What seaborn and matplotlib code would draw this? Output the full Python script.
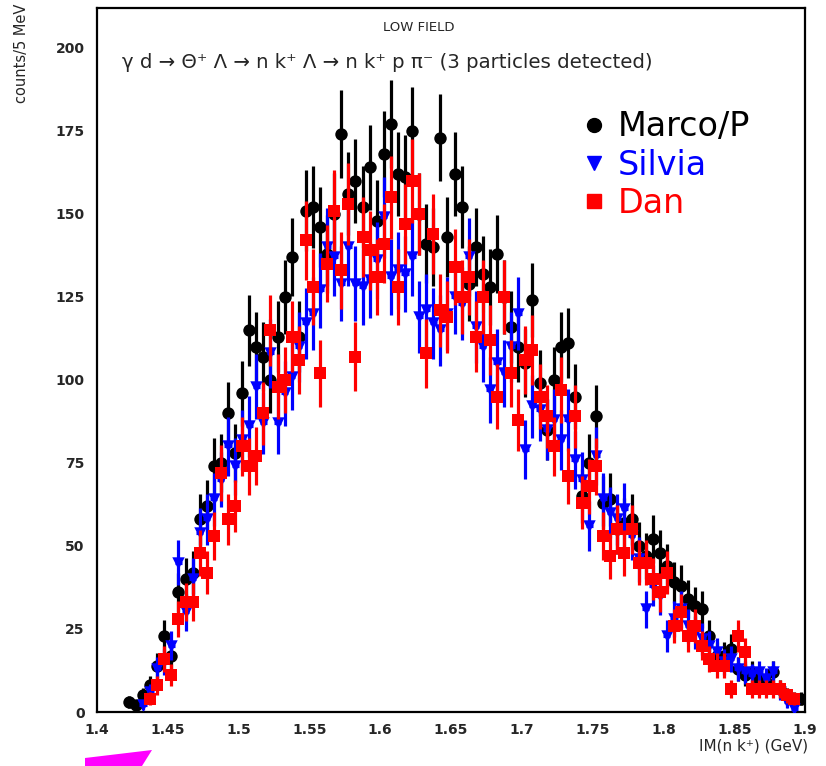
import numpy as np
import pandas as pd
import matplotlib
matplotlib.use("Agg")
import matplotlib.pyplot as plt
import seaborn as sns
from matplotlib.lines import Line2D
from matplotlib.patches import Polygon
from matplotlib.ticker import MultipleLocator, FuncFormatter

# ---------------- data (counts per 5 MeV bin) ----------------
n_bins = 96
bin_centers = np.round(1.4225 + 0.005 * np.arange(n_bins), 4)   # GeV
nan = np.nan

marco = [3, 2, 5, 8, 14, 23, 17, 36, 40, 42,
         58, 62, 74, 75, 90, 78, 96, 115, 110, 107,
         100, 113, 125, 137, 113, 151, 152, 146, 138, 150,
         174, 156, 160, 152, 164, 148, 168, 177, 162, 161,
         175, 150, 141, 140, 173, 143, 162, 152, 129, 140,
         132, 128, 138, 125, 116, 110, 105, 124, 99, 85,
         100, 110, 111, 95, 65, 75, 89, 63, 64, 55,
         57, 58, 50, 47, 52, 48, 44, 39, 38, 34,
         32, 31, 23, 17, 17, 19, 13, 11, 12, 10,
         9, 12, 7, 5, 4, 4]

silvia = [nan, nan, 2, 6, 13, 15, 20, 45, 30, 40,
          54, 58, 64, 70, 80, 74, 82, 86, 98, 87,
          108, 87, 96, 101, 110, 117, 120, 127, 140, 137,
          129, 140, 129, 128, 130, 136, 149, 131, 133, 132,
          137, 119, 121, 117, 115, 120, 125, 123, 137, 116,
          110, 97, 105, 102, 110, 120, 79, 92, 91, 85,
          88, 82, 88, 76, 70, 56, 77, 64, 60, 58,
          61, 53, 46, 31, 38, 35, 23, 28, 31, 26,
          24, 22, 20, 18, 15, 16, 13, 12, 11, 12,
          10, 12, 6, 3, 1, nan]

dan = [nan, nan, nan, 4, 8, 16, 11, 28, 33, 33,
       48, 42, 53, 72, 58, 62, 80, 74, 77, 90,
       115, 98, 100, 113, 106, 142, 128, 102, 135, 151,
       133, 153, 107, 143, 139, 131, 141, 155, 128, 147,
       160, 150, 108, 144, 121, 119, 134, 125, 131, 113,
       125, 112, 95, 125, 102, 88, 106, 109, 95, 89,
       80, 97, 71, 89, 63, 68, 74, 53, 47, 55,
       48, 55, 45, 45, 40, 36, 42, 26, 30, 23,
       26, 20, 16, 14, 14, 7, 23, 18, 7, 7,
       7, 7, 7, 5, 4, nan]

series_names = ["Marco/P", "Silvia", "Dan"]
series_values = [marco, silvia, dan]
series_colors = ["#000000", "#0000ff", "#ff0000"]
series_markers = ["o", "v", "s"]
series_sizes = [80, 80, 85]

x_ticks = [1.4, 1.45, 1.5, 1.55, 1.6, 1.65, 1.7, 1.75, 1.8, 1.85, 1.9]
y_ticks = [0, 25, 50, 75, 100, 125, 150, 175, 200]

# long table
frames = []
for name, vals in zip(series_names, series_values):
    frames.append(pd.DataFrame({"mass": bin_centers, "counts": vals, "who": name}))
df = pd.concat(frames, ignore_index=True).dropna()
df["err"] = np.sqrt(df["counts"])

# ---------------- figure ----------------
sns.set_style("white")
plt.rcParams["font.family"] = ["DejaVu Sans"]

W, H = 826, 766
fig = plt.figure(figsize=(W / 100, H / 100), dpi=100)
ax = fig.add_axes([97 / W, 1 - 712 / H, 708 / W, 704 / H])

for i, (name, col, mk, sz) in enumerate(zip(series_names, series_colors,
                                            series_markers, series_sizes)):
    sub = df[df["who"] == name]
    ax.errorbar(sub["mass"], sub["counts"], yerr=sub["err"], xerr=0.0025,
                fmt="none", ecolor=col, elinewidth=2.3, capsize=0,
                zorder=2 + 2 * i)
    sns.scatterplot(data=sub, x="mass", y="counts", marker=mk, color=col,
                    s=sz, linewidth=0, ax=ax, legend=False, zorder=3 + 2 * i)

ax.set_xlim(1.4, 1.9)
ax.set_ylim(0, 212)
ax.set_xticks(x_ticks)
ax.set_yticks(y_ticks)
ax.xaxis.set_minor_locator(MultipleLocator(0.01))
ax.yaxis.set_minor_locator(MultipleLocator(5))
ax.xaxis.set_major_formatter(FuncFormatter(lambda v, p: f"{v:g}"))
ax.tick_params(which="major", direction="in", length=10, width=1.4,
               labelsize=10, top=False, right=False)
ax.tick_params(which="minor", direction="in", length=5, width=1.2,
               top=False, right=False)
ax.tick_params(axis="x", which="major", pad=8)
ax.tick_params(axis="y", which="major", pad=9)
for lab in ax.get_xticklabels() + ax.get_yticklabels():
    lab.set_fontweight("bold")
for sp in ax.spines.values():
    sp.set_linewidth(1.6)
    sp.set_color("black")
ax.set_xlabel("")
ax.set_ylabel("")

# titles inside
ax.text(0.455, 0.972, "LOW FIELD", transform=ax.transAxes, ha="center",
        va="center", fontsize=9.5)
ax.text(0.035, 0.922,
        "γ d → Θ⁺ Λ → n k⁺ Λ → n k⁺ p π⁻ (3 particles detected)",
        transform=ax.transAxes, ha="left", va="center", fontsize=14.2)

# legend
handles = [Line2D([], [], ls="none", marker=m, color=c, markersize=10)
           for m, c in zip(series_markers, series_colors)]
ax.legend(handles, series_names, loc="upper left",
          bbox_to_anchor=(0.655, 0.888), frameon=False, fontsize=24,
          labelcolor=series_colors, handlelength=0.6, handletextpad=0.4,
          labelspacing=0.16, borderpad=0.2)

# axis titles
fig.text(22 / W, 1 - 4 / H, "counts/5 MeV", rotation=90, ha="center",
         va="top", fontsize=10.5)
fig.text(808 / W, 1 - 746 / H, "IM(n k⁺) (GeV)", ha="right", va="center",
         fontsize=11)

# magenta artefact at the bottom-left
fig.patches.append(Polygon([(85 / W, 1 - 758 / H), (152 / W, 1 - 750 / H),
                            (142 / W, 0.0), (85 / W, 0.0)],
                           closed=True, transform=fig.transFigure,
                           facecolor="#ff00ff", edgecolor="none"))

fig.savefig("out.png", dpi=100, facecolor="white")
